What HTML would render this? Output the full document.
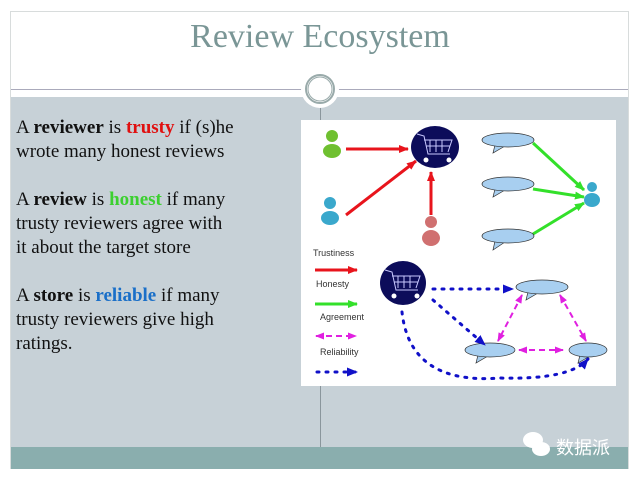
<!DOCTYPE html>
<html><head><meta charset="utf-8"><style>
body{margin:0;width:640px;height:480px;background:#fff;position:relative;overflow:hidden;font-family:"Liberation Serif",serif}
.frame{position:absolute;left:10px;top:11px;width:619px;height:458px;border:1px solid #d8dcdc;box-sizing:border-box}
.gray{position:absolute;left:11px;top:97px;width:617px;height:350px;background:#c7d1d7}
.band{position:absolute;left:11px;top:447px;width:617px;height:22px;background:#8aaeae}
.hl{position:absolute;left:11px;top:89px;width:617px;height:1px;background:#aab}
.vl{position:absolute;left:320px;top:97px;width:1px;height:350px;background:#8a969c}
h1{position:absolute;top:18px;left:0;width:640px;text-align:center;margin:0;font-weight:normal;font-size:34px;color:#7a9696}
.txt{position:absolute;left:16px;top:116px;font-size:19px;line-height:24px;color:#111}
b.r{color:#e01010}b.g{color:#3cd030}b.bl{color:#1a6fc8}
.wm{position:absolute;left:556px;top:434px;color:#fff;font-family:"Liberation Sans","Noto Sans CJK SC",sans-serif;font-size:18px}
</style></head><body>
<div class="frame"></div><div class="gray"></div><div class="band"></div><div class="hl"></div><div class="vl"></div>
<svg style="position:absolute;left:0;top:0" width="640" height="480">
<circle cx="320" cy="89" r="19" fill="#fff"/><circle cx="320" cy="89" r="14" fill="none" stroke="#9aa" stroke-width="2"/><circle cx="320" cy="89" r="12" fill="none" stroke="#9aa" stroke-width="1"/>
<rect x="301" y="120" width="315" height="266" fill="#fff"/>
<defs>
<marker id="ar" markerUnits="userSpaceOnUse" markerWidth="10" markerHeight="10" refX="9" refY="5" orient="auto"><path d="M0,1L10,5L0,9z" fill="#e8141c"/></marker>
<marker id="ag" markerUnits="userSpaceOnUse" markerWidth="10" markerHeight="10" refX="9" refY="5" orient="auto"><path d="M0,1L10,5L0,9z" fill="#33e02a"/></marker>
<marker id="am" markerUnits="userSpaceOnUse" markerWidth="9" markerHeight="9" refX="8" refY="4.5" orient="auto-start-reverse"><path d="M0,1L9,4.5L0,8z" fill="#e020e0"/></marker>
<marker id="ab" markerUnits="userSpaceOnUse" markerWidth="11" markerHeight="11" refX="10" refY="5.5" orient="auto"><path d="M0,1L11,5.5L0,10z" fill="#1010c8"/></marker>
</defs>
<g fill="#6fc030"><circle cx="332" cy="136" r="6"/><ellipse cx="332" cy="151" rx="9" ry="7"/></g>
<g fill="#3aa8cc"><circle cx="330" cy="203" r="6"/><ellipse cx="330" cy="218" rx="9" ry="7"/></g>
<g fill="#d07070"><circle cx="431" cy="222" r="6"/><ellipse cx="431" cy="238" rx="9" ry="8"/></g>
<g fill="#3aa8cc"><circle cx="592" cy="187" r="5"/><ellipse cx="592" cy="200" rx="8" ry="7"/></g>
<g stroke="#e8141c" stroke-width="3" fill="none" marker-end="url(#ar)"><line x1="346" y1="149" x2="408" y2="149"/><line x1="346" y1="215" x2="416" y2="161"/><line x1="431" y1="215" x2="431" y2="172"/><line x1="315" y1="270" x2="357" y2="270"/></g>
<g stroke="#33e02a" stroke-width="3" fill="none" marker-end="url(#ag)"><line x1="533" y1="143" x2="584" y2="190"/><line x1="533" y1="189" x2="584" y2="197"/><line x1="533" y1="234" x2="584" y2="203"/><line x1="315" y1="304" x2="357" y2="304"/></g>
<g fill="#0c0c5a"><ellipse cx="435" cy="147" rx="24" ry="21"/><ellipse cx="403" cy="283" rx="23" ry="22"/></g>
<g stroke="#c8c8ff" stroke-width="1" fill="none"><path d="M417 134L424 136L428 154L450 154M424 140H452L448 152M430 140V152M436 140V152M442 140V152M426 146H450"/><path d="M385 270L392 272L396 290L418 290M392 276H420L416 288M398 276V288M404 276V288M410 276V288M394 282H418"/></g>
<g fill="#fff"><circle cx="426" cy="160" r="2.5"/><circle cx="449" cy="160" r="2.5"/><circle cx="394" cy="296" r="2.5"/><circle cx="417" cy="296" r="2.5"/></g>
<g fill="#a8cff0" stroke="#333" stroke-width="0.7">
<path d="M495 145L493 153L505 146z"/><path d="M495 189L493 197L505 190z"/><path d="M495 241L493 250L505 242z"/><path d="M528 292L526 300L538 293z"/><path d="M478 355L476 363L488 356z"/><path d="M580 355L578 363L590 356z"/>
<ellipse cx="508" cy="140" rx="26" ry="7"/><ellipse cx="508" cy="184" rx="26" ry="7"/><ellipse cx="508" cy="236" rx="26" ry="7"/>
<ellipse cx="542" cy="287" rx="26" ry="7"/><ellipse cx="490" cy="350" rx="25" ry="7"/><ellipse cx="588" cy="350" rx="19" ry="7"/></g>
<g stroke="#e020e0" stroke-width="2" stroke-dasharray="6,4" fill="none" marker-end="url(#am)" marker-start="url(#am)"><line x1="522" y1="295" x2="498" y2="341"/><line x1="560" y1="295" x2="586" y2="341"/><line x1="519" y1="350" x2="563" y2="350"/><line x1="316" y1="336" x2="356" y2="336"/></g>
<g stroke="#1010c8" stroke-width="3" stroke-dasharray="2,7" stroke-linecap="round" fill="none" marker-end="url(#ab)"><line x1="433" y1="289" x2="513" y2="289"/><line x1="433" y1="300" x2="485" y2="345"/><path d="M402 312 Q410 385 500 378 Q570 380 588 359"/><line x1="317" y1="372" x2="357" y2="372"/></g>
<g font-family="Liberation Sans,sans-serif" font-size="9" fill="#333"><text x="313" y="256">Trustiness</text><text x="316" y="287">Honesty</text><text x="320" y="320">Agreement</text><text x="320" y="355">Reliability</text></g>
<g fill="#fff"><ellipse cx="533" cy="440" rx="10" ry="8"/><ellipse cx="541" cy="449" rx="9" ry="7"/></g>
</svg>
<h1>Review Ecosystem</h1>
<div class="txt">A <b>reviewer</b> is <b class="r">trusty</b> if (s)he<br>wrote many honest reviews<br><br>A <b>review</b> is <b class="g">honest</b> if many<br>trusty reviewers agree with<br>it about the target store<br><br>A <b>store</b> is <b class="bl">reliable</b> if many<br>trusty reviewers give high<br>ratings.</div>
<div class="wm">数据派</div>
</body></html>
